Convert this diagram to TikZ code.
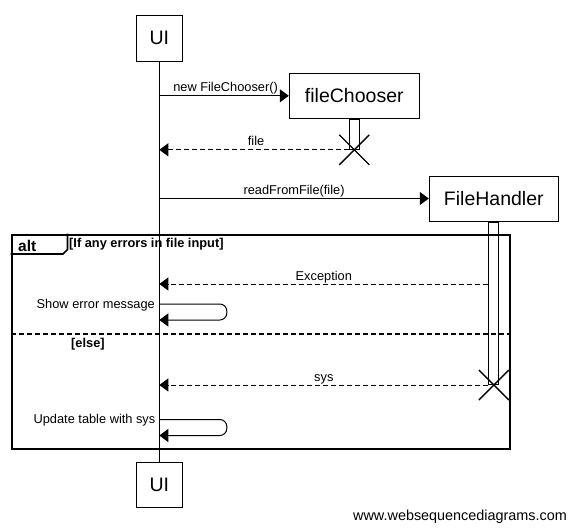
\documentclass[tikz,border=0pt]{standalone}
\usepackage{fontspec}
\setmainfont{Liberation Sans}
\usetikzlibrary{arrows.meta}
\newcommand\msgfont{\fontsize{12.8}{15}\selectfont}
\newcommand\partfont{\fontsize{19.5}{22}\selectfont}
\newcommand\guardfont{\fontsize{12.8}{15}\selectfont\bfseries}
\begin{document}
\begin{tikzpicture}[x=1pt,y=-1pt,
  participant/.style={draw, line width=1pt, fill=white, inner sep=0pt, font=\partfont},
  actbar/.style={draw, line width=1pt, fill=white, inner sep=0pt, minimum width=10pt, anchor=north},
  lifeline/.style={line width=1pt},
  msg/.style={line width=1pt, -{Triangle[length=9pt,width=13pt]}},
  ret/.style={msg, dash pattern=on 5pt off 3pt},
  lbl/.style={font=\msgfont, anchor=base, inner sep=0pt, yshift=4pt},
  sidelbl/.style={font=\msgfont, anchor=base east, inner sep=0pt},
  xcross/.style={line width=1.4pt},
  framebox/.style={draw, line width=2pt, inner sep=0pt, anchor=north west},
  tabline/.style={line width=1.6pt},
  guard/.style={font=\guardfont, anchor=base west, inner sep=0pt}
]
\useasboundingbox (0,0) rectangle (573,531);

% participants
\node[participant, minimum width=46pt, minimum height=46pt] (uiT) at (159.3,38) {UI};
\node[participant, minimum width=46pt, minimum height=45pt] (uiB) at (159.3,484.8) {UI};
\node[participant, minimum width=130pt, minimum height=45pt] (fc) at (354.3,95.8) {fileChooser};
\node[participant, minimum width=129pt, minimum height=45pt] (fh) at (493.8,198.5) {FileHandler};

% activation bars
\node[actbar, minimum height=30pt] (fcact) at (fc.south) {};
\node[actbar, minimum height=162.5pt] (fhact) at (fh.south) {};

% alt frame
\node[framebox, minimum width=498pt, minimum height=214pt] (frame) at (10.5,233.5) {};
\draw[tabline] (frame.north west) ++(57,0) -- ++(0,16) -- ++(-4.5,4.5) -- ++(-52.5,0);
\node[font=\fontsize{15.5}{18}\selectfont\bfseries, anchor=base west, inner sep=0pt] (altlbl) at (18,251) {alt};
\node[guard] (g1) at (69,247.5) {[If any errors in file input]};
\coordinate (divL) at (10.5,334);
\draw[line width=2pt, dash pattern=on 5pt off 3pt] (divL) -- (divL -| frame.east);
\node[guard] (g2) at (71,347) {[else]};

% lifeline
\draw[lifeline] (uiT.south) -- (uiB.north);

% lifeline points
\coordinate (u1) at (159.3,95.8);
\coordinate (u2) at (u1 |- fcact.south);
\coordinate (u3) at (159.3,198.5);
\coordinate (u4) at (159.3,284);
\coordinate (u5) at (159.3,304);
\coordinate (u6) at (u1 |- fhact.south);
\coordinate (u7) at (159.3,419.5);

% messages
\draw[msg] (u1) -- (fc.west) node[lbl, midway, xshift=1.5pt] {new FileChooser()};
\draw[ret] (fcact.south west) -- (u2) node[lbl, midway, xshift=2pt] {file};
\draw[msg] (u3) -- (fh.west) node[lbl, midway] {readFromFile(file)};
\draw[ret] (fhact.west |- u4) -- (u4) node[lbl, midway] {Exception};
\draw[msg, rounded corners=7pt] (u5) -- ++(67.5,0) -- ++(0,16) -- ++(-67.5,0);
\node[sidelbl] (l5) at (155,308) {Show error message};
\draw[ret] (fhact.south west) -- (u6) node[lbl, midway] {sys};
\draw[msg, rounded corners=7pt] (u7) -- ++(67.5,0) -- ++(0,16) -- ++(-67.5,0);
\node[sidelbl] (l7) at (155.5,423.5) {Update table with sys};

% destruction marks
\draw[xcross] (fcact.south) +(-15,-15) -- +(15,15) +(-15,15) -- +(15,-15);
\draw[xcross] (fhact.south) +(-15,-15) -- +(15,15) +(-15,15) -- +(15,-15);

% watermark
\node[font=\fontsize{14.4}{17}\selectfont, anchor=base west, inner sep=0pt] (wm) at (353,520) {www.websequencediagrams.com};
\end{tikzpicture}
\end{document}
